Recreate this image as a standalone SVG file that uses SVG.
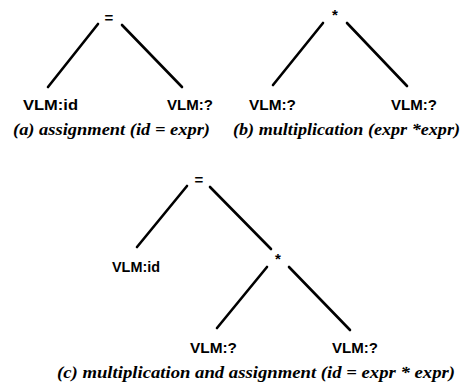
<svg xmlns="http://www.w3.org/2000/svg" width="468" height="387" viewBox="0 0 468 387">
<style>
.lbl{font-family:"Liberation Sans",Arial,sans-serif;font-weight:bold;font-size:15px;fill:#000}
.op{font-family:"Liberation Sans",Arial,sans-serif;font-weight:bold;font-size:15px;fill:#000;text-anchor:middle}
.cap{font-family:"Liberation Serif","Times New Roman",serif;font-weight:bold;font-style:italic;font-size:17px;fill:#000}
.edge{stroke:#000;stroke-width:2.6;stroke-linecap:round;fill:none}
</style>
<rect width="468" height="387" fill="#fff"/>
<g id="connectors">
<line class="edge" x1="98" y1="24" x2="48" y2="87"/>
<line class="edge" x1="122" y1="25" x2="182" y2="87"/>
<line class="edge" x1="323" y1="23" x2="273" y2="85"/>
<line class="edge" x1="347" y1="23" x2="407" y2="86"/>
<line class="edge" x1="187" y1="186" x2="137" y2="247"/>
<line class="edge" x1="210" y1="187" x2="271" y2="249"/>
<line class="edge" x1="267" y1="267" x2="217" y2="328"/>
<line class="edge" x1="289" y1="267" x2="350" y2="330"/>
</g>
<g id="a-eq"><text class="op" x="109" y="23">=</text></g>
<g id="a-id"><text class="lbl" x="23" y="110" textLength="55" lengthAdjust="spacingAndGlyphs">VLM:id</text></g>
<g id="a-q"><text class="lbl" x="167" y="110" textLength="46" lengthAdjust="spacingAndGlyphs">VLM:?</text></g>
<g id="a-cap"><text class="cap" x="13" y="135" textLength="197" lengthAdjust="spacingAndGlyphs">(a) assignment (id = expr)</text></g>
<g id="b-mul"><text class="op" x="335" y="20">*</text></g>
<g id="b-q1"><text class="lbl" x="249" y="110" textLength="47" lengthAdjust="spacingAndGlyphs">VLM:?</text></g>
<g id="b-q2"><text class="lbl" x="391" y="110" textLength="46" lengthAdjust="spacingAndGlyphs">VLM:?</text></g>
<g id="b-cap"><text class="cap" x="233" y="135" textLength="227" lengthAdjust="spacingAndGlyphs">(b) multiplication (expr *expr)</text></g>
<g id="c-eq"><text class="op" x="199" y="185">=</text></g>
<g id="c-id"><text class="lbl" x="112" y="272" textLength="48" lengthAdjust="spacingAndGlyphs">VLM:id</text></g>
<g id="c-mul"><text class="op" x="278" y="264">*</text></g>
<g id="c-q1"><text class="lbl" x="190" y="353" textLength="47" lengthAdjust="spacingAndGlyphs">VLM:?</text></g>
<g id="c-q2"><text class="lbl" x="332" y="353" textLength="46" lengthAdjust="spacingAndGlyphs">VLM:?</text></g>
<g id="c-cap"><text class="cap" x="57" y="378" textLength="398" lengthAdjust="spacingAndGlyphs">(c) multiplication and assignment (id = expr * expr)</text></g>
</svg>
